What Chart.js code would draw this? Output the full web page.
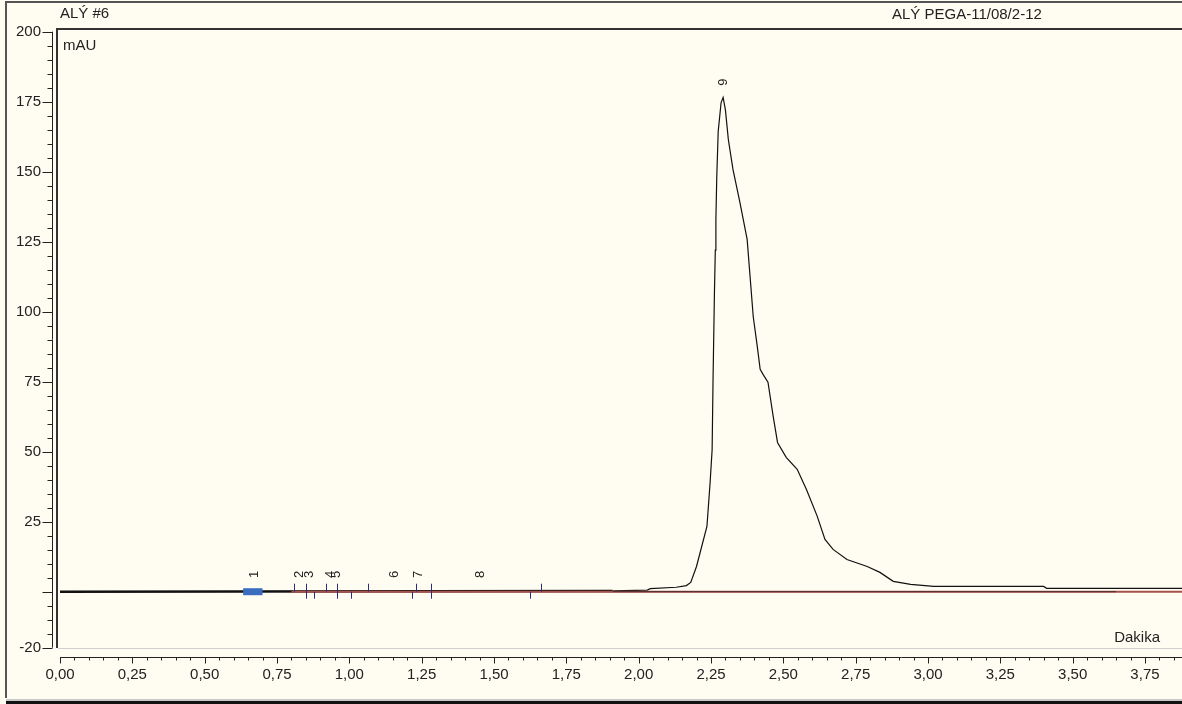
<!DOCTYPE html>
<html>
<head>
<meta charset="utf-8">
<script src="https://cdn.jsdelivr.net/npm/chart.js@4.4.1/dist/chart.umd.min.js"></script>
<style>
  body { margin: 0; background: #fffcf1; }
  canvas { display: block; }
</style>
</head>
<body>
<canvas id="chrom" width="1182" height="704"></canvas>
<script>
// run info
const sampleName = "ALÝ #6";
const runName = "ALÝ PEGA-11/08/2-12";
const yUnit = "mAU";
const xUnit = "Dakika";

// detector trace (min / mAU)
const traceTime = [0, 1.91, 2.03, 2.04, 2.13, 2.165, 2.18, 2.20, 2.236, 2.247, 2.254, 2.257, 2.262, 2.265, 2.267,
  2.270, 2.275, 2.285, 2.292, 2.30, 2.31, 2.326, 2.35, 2.375, 2.396, 2.41, 2.42, 2.43, 2.447, 2.465, 2.48,
  2.51, 2.548, 2.58, 2.617, 2.644, 2.672, 2.72, 2.79, 2.834, 2.88, 2.94, 3.02, 3.40, 3.41, 3.878];
const traceSignal = [0, 0.3, 0.6, 1.1, 1.6, 2.2, 3.3, 9, 23.3, 39, 50.8, 74.8, 107, 122, 133,
  148, 164.4, 174.7, 176.5, 172, 161.5, 150.8, 139, 125.8, 98.3, 87.6, 79.4, 77.6, 74.8, 62.6, 53.3,
  48, 43.7, 36.5, 27, 18.7, 15.1, 11.5, 9, 6.9, 3.7, 2.6, 1.9, 1.9, 1.2, 1.2];

// baselines
const zeroLineTime = [0.8, 3.878];
const peak9BaseTime = [1.91, 3.65];

// peaks
const peakNames = ["1", "2", "3", "4", "5", "6", "7", "8", "9"];
const peakLabelTime = [0.673, 0.826, 0.861, 0.933, 0.957, 1.155, 1.238, 1.452, 2.292];
const peakLabelSignal = [6.2, 6.2, 6.2, 6.2, 6.2, 6.2, 6.2, 6.2, 182];
const peak1Band = [0.633, 0.70];
const markerTime = [0.81, 0.85, 0.878, 0.92, 0.958, 1.006, 1.065, 1.217, 1.23, 1.282, 1.625, 1.663];
const markerSide = [1, 0, -1, 1, 0, -1, 1, -1, 1, 0, -1, 1]; // 1 up, -1 down, 0 both

// axes
const xTickValues = [0, 0.25, 0.5, 0.75, 1, 1.25, 1.5, 1.75, 2, 2.25, 2.5, 2.75, 3, 3.25, 3.5, 3.75];
const yTickValues = [-20, 0, 25, 50, 75, 100, 125, 150, 175, 200];
const xMinorStep = 0.05;
const yMinorStep = 5;

const pts = (xs, ys) => xs.map((x, i) => ({ x, y: ys[i] }));
const FONT = "'Liberation Sans', Arial, sans-serif";

const framePlugin = {
  id: "frame",
  beforeDraw(chart) {
    const { ctx, chartArea: a } = chart;
    ctx.save();
    ctx.fillStyle = "#fffcf1";
    ctx.fillRect(0, 0, chart.width, chart.height);

    // window frame
    ctx.strokeStyle = "#555";
    ctx.lineWidth = 2;
    ctx.beginPath();
    ctx.moveTo(6, 698); ctx.lineTo(6, 2); ctx.lineTo(1182, 2);
    ctx.stroke();
    ctx.fillStyle = "#c9c9c9";
    ctx.fillRect(6, 699, 1176, 2);
    ctx.fillStyle = "#111";
    ctx.fillRect(6, 701, 1176, 3);

    // plot box
    ctx.strokeStyle = "#d0d0d0";
    ctx.lineWidth = 1;
    ctx.beginPath();
    ctx.moveTo(a.left, a.bottom + 0.5); ctx.lineTo(a.right, a.bottom + 0.5);
    ctx.stroke();
    ctx.strokeStyle = "#333";
    ctx.lineWidth = 2;
    ctx.beginPath();
    ctx.moveTo(a.left - 1, a.bottom); ctx.lineTo(a.left - 1, a.top - 1); ctx.lineTo(a.right, a.top - 1);
    ctx.stroke();

    ctx.fillStyle = "#222";
    ctx.font = "15px " + FONT;
    ctx.textBaseline = "middle";
    ctx.textAlign = "left";
    ctx.fillText(sampleName, 60, 14);
    ctx.fillText(runName, 892, 15);
    ctx.fillText(yUnit, 63, 46);
    ctx.textAlign = "right";
    ctx.fillText(xUnit, 1160, 638);
    ctx.restore();
  },
  afterDraw(chart) {
    const { ctx } = chart;
    const xs = chart.scales.x, ys = chart.scales.y;
    ctx.save();
    ctx.strokeStyle = "#222";
    ctx.lineWidth = 1;

    // y ruler
    const rx = 52.5;
    ctx.beginPath();
    ctx.moveTo(rx, ys.getPixelForValue(200)); ctx.lineTo(rx, ys.getPixelForValue(-20));
    for (let v = -20; v <= 200; v += yMinorStep) {
      const p = Math.round(ys.getPixelForValue(v)) + 0.5;
      const major = yTickValues.includes(v);
      ctx.moveTo(rx - (major ? 10 : 5), p); ctx.lineTo(rx, p);
    }
    ctx.stroke();

    // x ruler
    const ry = 657.5;
    ctx.beginPath();
    ctx.moveTo(xs.getPixelForValue(0), ry); ctx.lineTo(chart.width, ry);
    for (let i = 0; i * xMinorStep <= xs.max; i++) {
      const v = +(i * xMinorStep).toFixed(2);
      const p = Math.round(xs.getPixelForValue(v)) + 0.5;
      const major = i % 5 === 0;
      ctx.moveTo(p, ry); ctx.lineTo(p, ry + (major ? 6 : 3));
    }
    ctx.stroke();

    // peak markers
    const y0 = ys.getPixelForValue(0);
    ctx.strokeStyle = "#2c2c7a";
    ctx.beginPath();
    markerTime.forEach((t, i) => {
      const p = Math.round(xs.getPixelForValue(t)) + 0.5;
      const s = markerSide[i];
      ctx.moveTo(p, s < 0 ? y0 : y0 - 8);
      ctx.lineTo(p, s > 0 ? y0 : y0 + 7);
    });
    ctx.stroke();

    // peak names, rotated
    ctx.fillStyle = "#222";
    ctx.font = "13px " + FONT;
    ctx.textAlign = "center";
    ctx.textBaseline = "middle";
    peakNames.forEach((n, i) => {
      ctx.save();
      ctx.translate(xs.getPixelForValue(peakLabelTime[i]), ys.getPixelForValue(peakLabelSignal[i]));
      ctx.rotate(-Math.PI / 2);
      ctx.fillText(n, 0, 0);
      ctx.restore();
    });
    ctx.restore();
  }
};

new Chart(document.getElementById("chrom"), {
  type: "scatter",
  data: {
    datasets: [
      {
        label: "peak 1",
        data: pts(peak1Band, [0, 0]),
        showLine: true, borderColor: "#3a6cc0", borderWidth: 7, pointRadius: 0, order: 0
      },
      {
        label: "peak 9 baseline",
        data: pts(peak9BaseTime, [0, 0]),
        showLine: true, borderColor: "#4a2c2c", borderWidth: 1, pointRadius: 0, order: 1
      },
      {
        label: "zero",
        data: pts(zeroLineTime, [0, 0]),
        showLine: true, borderColor: "#a8524e", borderWidth: 2, pointRadius: 0, order: 2
      },
      {
        label: "signal",
        data: pts(traceTime, traceSignal),
        showLine: true, borderColor: "#111", borderWidth: 1.2, pointRadius: 0, order: 3,
        segment: { borderWidth: c => (c.p0.parsed.x < 0.8 ? 2.5 : 1.2) }
      }
    ]
  },
  options: {
    responsive: false,
    animation: false,
    events: [],
    layout: { padding: { top: 30, right: 0, bottom: 0, left: 0 } },
    plugins: { legend: { display: false }, tooltip: { enabled: false } },
    scales: {
      x: {
        type: "linear",
        min: -0.0069,
        max: 3.878,
        grid: { display: false, drawTicks: false },
        border: { display: false },
        afterBuildTicks: s => { s.ticks = xTickValues.map(v => ({ value: v })); },
        afterFit: s => { s.height = 56; },
        ticks: {
          padding: 18,
          color: "#222",
          font: { family: FONT, size: 15 },
          maxRotation: 0,
          autoSkip: false,
          callback: v => v.toFixed(2).replace(".", ",")
        }
      },
      y: {
        min: -20.1,
        max: 200.6,
        grid: { display: false, drawTicks: false },
        border: { display: false },
        afterBuildTicks: s => { s.ticks = yTickValues.map(v => ({ value: v })); },
        afterFit: s => { s.width = 58; },
        ticks: {
          padding: 17,
          color: "#222",
          font: { family: FONT, size: 15 },
          autoSkip: false,
          callback: v => (v === 0 ? "" : String(v))
        }
      }
    }
  },
  plugins: [framePlugin]
});
</script>
</body>
</html>
